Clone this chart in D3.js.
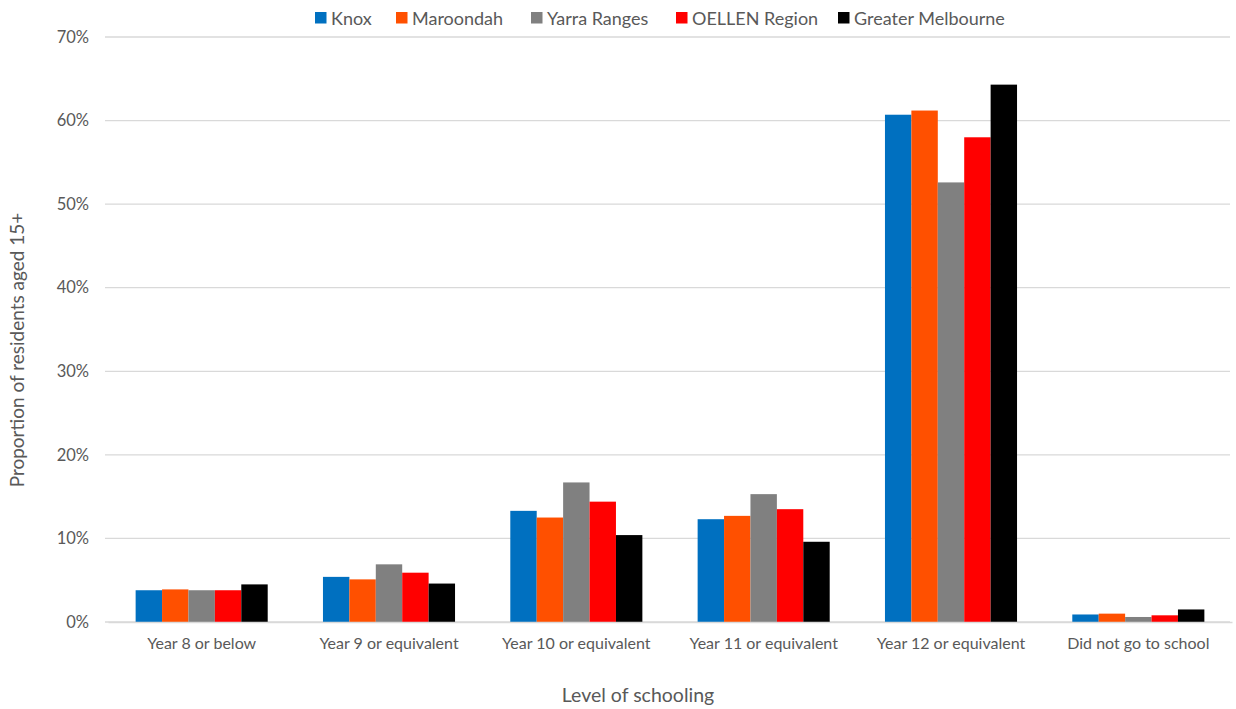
<!DOCTYPE html>
<html><head><meta charset="utf-8">
<script src="https://cdn.jsdelivr.net/npm/d3@7"></script>
<style>body{margin:0;background:#fff}text{font-family:Lato,"Open Sans",sans-serif}</style>
</head><body><svg id="c" width="1236" height="709"></svg>
<script>
const categories = ["Year 8 or below","Year 9 or equivalent","Year 10 or equivalent","Year 11 or equivalent","Year 12 or equivalent","Did not go to school"];
const seriesNames = ["Knox","Maroondah","Yarra Ranges","OELLEN Region","Greater Melbourne"];
const knox = [3.8,5.4,13.3,12.3,60.7,0.9];
const maroondah = [3.9,5.1,12.5,12.7,61.2,1.0];
const yarraRanges = [3.8,6.9,16.7,15.3,52.6,0.6];
const oellen = [3.8,5.9,14.4,13.5,58.0,0.8];
const greaterMelbourne = [4.5,4.6,10.4,9.6,64.3,1.5];
const yTicks = [0,10,20,30,40,50,60,70];
const colors = ["#0070C0","#FF5000","#808080","#FF0000","#000000"];
const series = [knox,maroondah,yarraRanges,oellen,greaterMelbourne];

const svg = d3.select("#c");
const x0 = d3.scaleBand().domain(categories).range([108,1232]).paddingInner(0.295).paddingOuter(0.1475);
const x1 = d3.scaleBand().domain(seriesNames).range([0,x0.bandwidth()]).padding(0);
const y = d3.scaleLinear().domain([0,70]).range([622,37]);

// gridlines
svg.append("g").selectAll("line").data(yTicks).join("line")
  .attr("x1",105).attr("x2",1230).attr("y1",d=>y(d)).attr("y2",d=>y(d))
  .attr("stroke","#d9d9d9").attr("stroke-width",1.3);

// y axis labels
const ya = svg.append("g").attr("transform","translate(89,0)")
  .call(d3.axisLeft(y).tickValues(yTicks).tickFormat(d=>d+"%").tickSize(0).tickPadding(0));
ya.select(".domain").remove();
ya.selectAll("text").attr("font-size",16.5).attr("fill","#595959").style("font-family","Lato,'Open Sans',sans-serif");

// bars
const g = svg.append("g");
categories.forEach((c,ci)=>{
  seriesNames.forEach((s,si)=>{
    const v = series[si][ci];
    g.append("rect").attr("x",x0(c)+x1(s)).attr("width",x1.bandwidth())
      .attr("y",y(v)).attr("height",y(0)-y(v)).attr("fill",colors[si]);
  });
});

// x axis
const xa = svg.append("g").attr("transform","translate(0,622)")
  .call(d3.axisBottom(x0).tickSize(0).tickPadding(16));
xa.select(".domain").attr("stroke","#d9d9d9").attr("stroke-width",1.3);
xa.selectAll("text").attr("font-size",16).attr("fill","#595959").style("font-family","Lato,'Open Sans',sans-serif");

// axis titles
svg.append("text").attr("x",638).attr("y",702).attr("text-anchor","middle")
  .attr("font-size",19.5).attr("fill","#595959").text("Level of schooling");
svg.append("text").attr("transform","translate(24,350) rotate(-90)").attr("text-anchor","middle")
  .attr("font-size",19).attr("fill","#595959").text("Proportion of residents aged 15+");

// legend
const legX = [315,396,531,676,838];
const lg = svg.append("g");
seriesNames.forEach((s,i)=>{
  lg.append("rect").attr("x",legX[i]).attr("y",12).attr("width",11.5).attr("height",11.5).attr("fill",colors[i]);
  lg.append("text").attr("x",legX[i]+16).attr("y",24.5).attr("font-size",18).attr("fill","#595959").text(s);
});
</script></body></html>
